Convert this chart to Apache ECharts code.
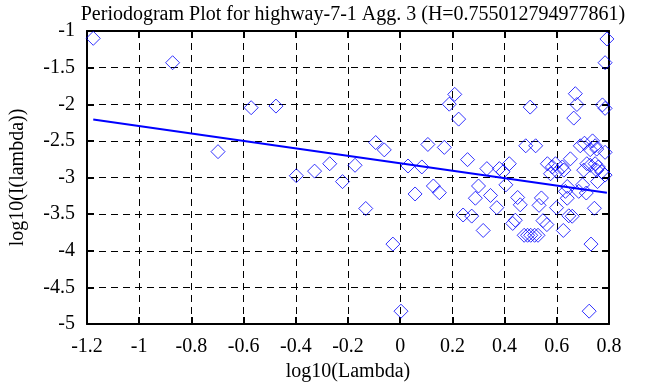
<!DOCTYPE html>
<html>
<head>
<meta charset="utf-8">
<script src="https://cdn.jsdelivr.net/npm/echarts@6/dist/echarts.min.js"></script>
<style>html,body{margin:0;padding:0;background:#fff;}#c{width:658px;height:387px;}</style>
</head>
<body>
<div id="c"></div>
<script>
const titleText = 'Periodogram Plot for highway-7-1 Agg. 3 (H=0.755012794977861)';
const xName = 'log10(Lambda)';
const yName = 'log10(I(lambda))';
const xTicks = [-1.2, -1, -0.8, -0.6, -0.4, -0.2, 0, 0.2, 0.4, 0.6, 0.8];
const yTicks = [-5, -4.5, -4, -3.5, -3, -2.5, -2, -1.5, -1];

const logLambda = [
  -1.176, -0.872, -0.571, -0.476, -0.698, -0.398, -0.328, -0.270, -0.221, -0.173,
  -0.094, -0.061, -0.132, -0.028, 0.003, 0.057, 0.127, 0.150, 0.030, 0.083,
  0.106, 0.169, 0.209, 0.188, 0.224, 0.258, 0.241, 0.274, 0.318, 0.300,
  0.288, 0.346, 0.370, 0.405, 0.332, 0.380, 0.418, 0.394, 0.450, 0.460,
  0.431, 0.441, 0.475, 0.488, 0.500, 0.515, 0.528, 0.541, 0.532, 0.547,
  0.562, 0.599, 0.625, 0.640, 0.633, 0.646, 0.659, 0.699, 0.713, 0.684,
  0.744, 0.731, 0.756, 0.724, 0.785, 0.576, 0.602, 0.627, 0.703, 0.753,
  0.772, 0.481, 0.519, 0.690, 0.706, 0.737, 0.747, 0.728, 0.753, 0.785,
  0.652, 0.564, 0.583, 0.595, 0.621, 0.715, 0.728, 0.747, 0.759, 0.498,
  0.665, 0.671, 0.677, 0.775, 0.785, 0.792, 0.785, 0.640
];
const logPeriodogram = [
  -1.100, -1.433, -2.047, -2.025, -2.647, -2.976, -2.913, -2.812, -3.056, -2.833,
  -2.523, -2.623, -3.423, -3.909, -4.825, -3.225, -3.116, -3.207, -2.843, -2.856,
  -2.549, -2.589, -1.865, -1.999, -2.203, -2.756, -3.512, -3.527, -3.723, -3.116,
  -3.283, -3.245, -3.412, -3.100, -2.879, -2.879, -2.812, -2.923, -3.273, -3.373,
  -3.627, -3.583, -3.789, -3.789, -3.789, -3.789, -3.789, -3.279, -3.380, -3.589,
  -3.643, -3.412, -3.723, -3.283, -3.189, -3.523, -3.529, -3.100, -3.212, -3.189,
  -3.420, -3.909, -3.056, -4.825, -2.967, -2.949, -2.923, -2.900, -2.900, -2.900,
  -2.923, -2.567, -2.567, -2.567, -2.532, -2.500, -2.567, -2.620, -2.612, -2.656,
  -2.745, -2.812, -2.856, -2.812, -2.856, -2.812, -2.833, -2.812, -2.856, -2.039,
  -2.189, -1.856, -2.003, -2.009, -2.056, -1.109, -1.433, -3.123
];
const fitX = [-1.176, 0.792];
const fitY = [-2.209, -3.208];

const FONT = 'Liberation Serif';
const BLUE = '#0000ff';
const scatterData = logLambda.map((x, i) => [x, logPeriodogram[i]]);
const fitData = fitX.map((x, i) => [x, fitY[i]]);

const fmt = v => String(+v.toFixed(2));
const xMin = xTicks[0], xMax = xTicks[xTicks.length - 1];
const yMin = yTicks[0], yMax = yTicks[yTicks.length - 1];

const baseAxis = {
  type: 'value',
  axisLine: { show: true, onZero: false, lineStyle: { color: '#000', width: 2 } },
  axisTick: { show: true, inside: true, length: 7, lineStyle: { color: '#000', width: 2 } },
};

const chart = echarts.init(document.getElementById('c'), null, { renderer: 'canvas' });
chart.setOption({
  backgroundColor: '#fff',
  animation: false,
  title: {
    text: titleText,
    left: 348, top: 0, textAlign: 'center',
    textStyle: { fontFamily: FONT, fontSize: 20, fontWeight: 'normal', color: '#000' }
  },
  grid: { left: 82, top: 31, width: 527, height: 300, containLabel: false },
  xAxis: [
    Object.assign({}, baseAxis, {
      min: xMin, max: xMax, interval: 0.2, position: 'bottom',
      name: xName, nameLocation: 'middle', nameGap: 38,
      nameTextStyle: { fontFamily: FONT, fontSize: 20, color: '#000' },
      axisLabel: { margin: 13, fontFamily: FONT, fontSize: 20, color: '#000', formatter: fmt },
      splitLine: { show: true, lineStyle: { color: '#000', width: 1, type: [7, 5] } }
    }),
    Object.assign({}, baseAxis, {
      min: xMin, max: xMax, interval: 0.2, position: 'top',
      axisLabel: { show: false }, splitLine: { show: false }
    })
  ],
  yAxis: [
    Object.assign({}, baseAxis, {
      min: yMin, max: yMax, interval: 0.5, position: 'left',
      name: yName, nameLocation: 'middle', nameGap: 59,
      nameTextStyle: { fontFamily: FONT, fontSize: 20, color: '#000' },
      axisLabel: { margin: 12, fontFamily: FONT, fontSize: 20, color: '#000', formatter: fmt,
        padding: [4, 0, 0, 0] },
      splitLine: { show: true, lineStyle: { color: '#000', width: 1, type: [7, 5] } }
    }),
    Object.assign({}, baseAxis, {
      min: yMin, max: yMax, interval: 0.5, position: 'right',
      axisLabel: { show: false }, splitLine: { show: false }
    })
  ],
  series: [
    {
      type: 'scatter', xAxisIndex: 0, yAxisIndex: 0,
      data: scatterData, symbol: 'diamond', symbolSize: 14, clip: false,
      itemStyle: { color: 'rgba(0,0,0,0)', borderColor: BLUE, borderWidth: 1 },
      emphasis: { disabled: true }
    },
    {
      type: 'line', xAxisIndex: 0, yAxisIndex: 0,
      data: fitData, showSymbol: false, symbol: 'none',
      lineStyle: { color: BLUE, width: 2 }
    }
  ]
});
</script>
</body>
</html>
